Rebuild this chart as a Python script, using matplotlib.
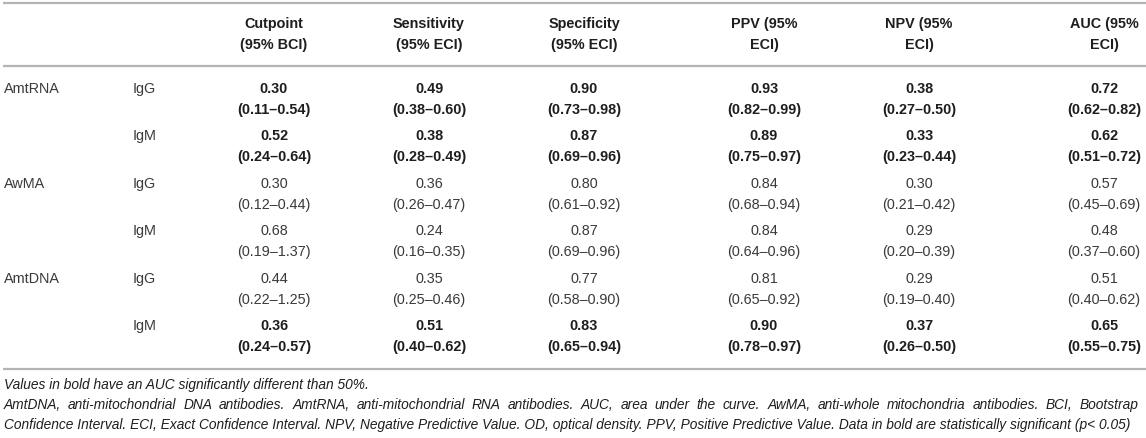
import matplotlib
matplotlib.use("Agg")
import matplotlib.pyplot as plt

plt.rcParams['font.family'] = ['Liberation Sans', 'DejaVu Sans']

# table contents
antibodies = ["AmtRNA", "", "AwMA", "", "AmtDNA", ""]
isotypes = ["IgG", "IgM", "IgG", "IgM", "IgG", "IgM"]
significant = [True, True, False, False, False, True]

headers = [
    "Cutpoint\n(95% BCI)",
    "Sensitivity\n(95% ECI)",
    "Specificity\n(95% ECI)",
    "PPV (95%\nECI)",
    "NPV (95%\nECI)",
    "AUC (95%\nECI)",
]

cutpoint = [0.30, 0.52, 0.30, 0.68, 0.44, 0.36]
cutpoint_lo = [0.11, 0.24, 0.12, 0.19, 0.22, 0.24]
cutpoint_hi = [0.54, 0.64, 0.44, 1.37, 1.25, 0.57]

sensitivity = [0.49, 0.38, 0.36, 0.24, 0.35, 0.51]
sensitivity_lo = [0.38, 0.28, 0.26, 0.16, 0.25, 0.40]
sensitivity_hi = [0.60, 0.49, 0.47, 0.35, 0.46, 0.62]

specificity = [0.90, 0.87, 0.80, 0.87, 0.77, 0.83]
specificity_lo = [0.73, 0.69, 0.61, 0.69, 0.58, 0.65]
specificity_hi = [0.98, 0.96, 0.92, 0.96, 0.90, 0.94]

ppv = [0.93, 0.89, 0.84, 0.84, 0.81, 0.90]
ppv_lo = [0.82, 0.75, 0.68, 0.64, 0.65, 0.78]
ppv_hi = [0.99, 0.97, 0.94, 0.96, 0.92, 0.97]

npv = [0.38, 0.33, 0.30, 0.29, 0.29, 0.37]
npv_lo = [0.27, 0.23, 0.21, 0.20, 0.19, 0.26]
npv_hi = [0.50, 0.44, 0.42, 0.39, 0.40, 0.50]

auc = [0.72, 0.62, 0.57, 0.48, 0.51, 0.65]
auc_lo = [0.62, 0.51, 0.45, 0.37, 0.40, 0.55]
auc_hi = [0.82, 0.72, 0.69, 0.60, 0.62, 0.75]

footnotes = [
    "Values in bold have an AUC significantly different than 50%.",
    "AmtDNA, anti-mitochondrial DNA antibodies. AmtRNA, anti-mitochondrial RNA antibodies. "
    "AUC, area under the curve. AwMA, anti-whole mitochondria antibodies. BCI, Bootstrap",
    "Confidence Interval. ECI, Exact Confidence Interval. NPV, Negative Predictive Value. "
    "OD, optical density. PPV, Positive Predictive Value. Data in bold are statistically significant (p< 0.05)",
]
justified = [False, True, False]

columns = [
    (cutpoint, cutpoint_lo, cutpoint_hi),
    (sensitivity, sensitivity_lo, sensitivity_hi),
    (specificity, specificity_lo, specificity_hi),
    (ppv, ppv_lo, ppv_hi),
    (npv, npv_lo, npv_hi),
    (auc, auc_lo, auc_hi),
]

# layout in pixel units
W, H = 1146, 438
col_x = [274, 429, 584, 764, 919, 1104]
row_y0, row_step, ci_gap = 89, 47.4, 21
rule_color = "#b4b4b4"
dark = "#1e1e1e"
light = "#3a3a3a"
fs = 10.4
foot_fs = 9.95
text_right = 1138

fig = plt.figure(figsize=(W / 100, H / 100), dpi=100)
ax = fig.add_axes([0, 0, 1, 1])
ax.set_xlim(0, W)
ax.set_ylim(H, 0)
ax.axis("off")

for y in (3, 66, 369):
    ax.plot([3, W], [y, y], color=rule_color, lw=1.6, solid_capstyle="butt")

for x, h in zip(col_x, headers):
    top, bottom = h.split("\n")
    ax.text(x, 24, top, ha="center", va="center", fontsize=fs, fontweight="bold", color=dark)
    ax.text(x, 45, bottom, ha="center", va="center", fontsize=fs, fontweight="bold", color=dark)

for i in range(len(isotypes)):
    y = row_y0 + i * row_step
    ax.text(4, y, antibodies[i], ha="left", va="center", fontsize=fs, color=light)
    ax.text(133, y, isotypes[i], ha="left", va="center", fontsize=fs, color=light)
    weight = "bold" if significant[i] else "normal"
    color = dark if significant[i] else light
    for x, (vals, lo, hi) in zip(col_x, columns):
        ax.text(x, y, f"{vals[i]:.2f}", ha="center", va="center",
                fontsize=fs, fontweight=weight, color=color)
        ax.text(x, y + ci_gap, f"({lo[i]:.2f}\u2013{hi[i]:.2f})", ha="center", va="center",
                fontsize=fs, fontweight=weight, color=color)

# footnote, with the middle line justified like the journal layout
renderer = fig.canvas.get_renderer()
for j, line in enumerate(footnotes):
    y = 385 + j * 20
    if not justified[j]:
        ax.text(4, y, line, ha="left", va="center", fontsize=foot_fs,
                fontstyle="italic", color=dark)
        continue
    words = line.split(" ")
    widths = []
    for w in words:
        t = ax.text(0, 0, w, fontsize=foot_fs, fontstyle="italic")
        widths.append(t.get_window_extent(renderer).width)
        t.remove()
    gap = (text_right - 4 - sum(widths)) / (len(words) - 1)
    x = 4
    for w, wd in zip(words, widths):
        ax.text(x, y, w, ha="left", va="center", fontsize=foot_fs,
                fontstyle="italic", color=dark)
        x += wd + gap

fig.savefig("out.png", dpi=100)
